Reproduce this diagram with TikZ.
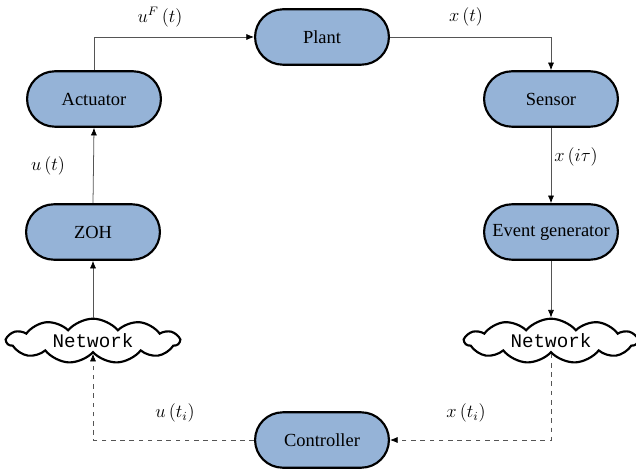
\documentclass[tikz,border=0pt]{standalone}
\usepackage{fontspec}
\setmainfont{Liberation Serif}
\setmonofont{Liberation Mono}
\usetikzlibrary{shapes.symbols,shapes.misc,arrows.meta}
\definecolor{blockfill}{HTML}{95B3D7}
\definecolor{wire}{HTML}{555555}
\tikzset{
  block/.style={draw, rounded rectangle, fill=blockfill, line width=1.4pt,
                minimum width=91pt, minimum height=36pt,
                font=\fontsize{12}{14}\selectfont, inner sep=2pt},
  netcloud/.style={draw, cloud, cloud puffs=11, cloud puff arc=100, cloud ignores aspect,
                   minimum width=112pt, minimum height=29pt, line width=1.4pt,
                   fill=white, font=\ttfamily\fontsize{12.5}{14}\selectfont, inner sep=0pt},
  wireline/.style={draw=wire, line width=0.5pt, -{Latex[length=5pt,width=4pt,black]}},
  dashwire/.style={wireline, dashed},
  sig/.style={font=\fontsize{12}{14}\selectfont},
}
\begin{document}
\begin{tikzpicture}[x=0.65pt, y=-0.65pt]
  \useasboundingbox (0,0) rectangle (636,471);
  % blocks
  \node[block] (plant) at (322, 37) {Plant};
  \node[block] (act) at (94, 99) {Actuator};
  \node[block] (sens) at (551, 99) {Sensor};
  \node[block] (zoh) at (93, 232) {ZOH};
  \node[block] (evt) at (551, 232) {Event generator};
  \node[netcloud] (netL) at (93, 341) {Network};
  \node[netcloud] (netR) at (551, 341) {Network};
  \node[block] (ctrl) at (322, 440) {Controller};
  % signals
  \draw[wireline] (act.north) |- (plant.west);
  \draw[wireline] (plant.east) -| (sens.north);
  \draw[wireline] (sens.south) -- (evt.north);
  \draw[wireline] (evt.south) -- (netR.north);
  \draw[dashwire] (netR.south) |- (ctrl.east);
  \draw[dashwire] (ctrl.west) -| (netL.south);
  \draw[wireline] (netL.north) -- (zoh.south);
  \draw[wireline] (zoh.north) -- (act.south);
  % labels
  \node[sig] (luF) at (160, 17) {$u^F\left(t\right)$};
  \node[sig] (lx) at (466, 17) {$x\left(t\right)$};
  \node[sig] (lxi) at (576, 157) {$x\left(i\tau\right)$};
  \node[sig] (lu) at (48, 166) {$u\left(t\right)$};
  \node[sig] (lut) at (175, 413) {$u\left(t_i\right)$};
  \node[sig] (lxt) at (466, 413) {$x\left(t_i\right)$};
\end{tikzpicture}
\end{document}
